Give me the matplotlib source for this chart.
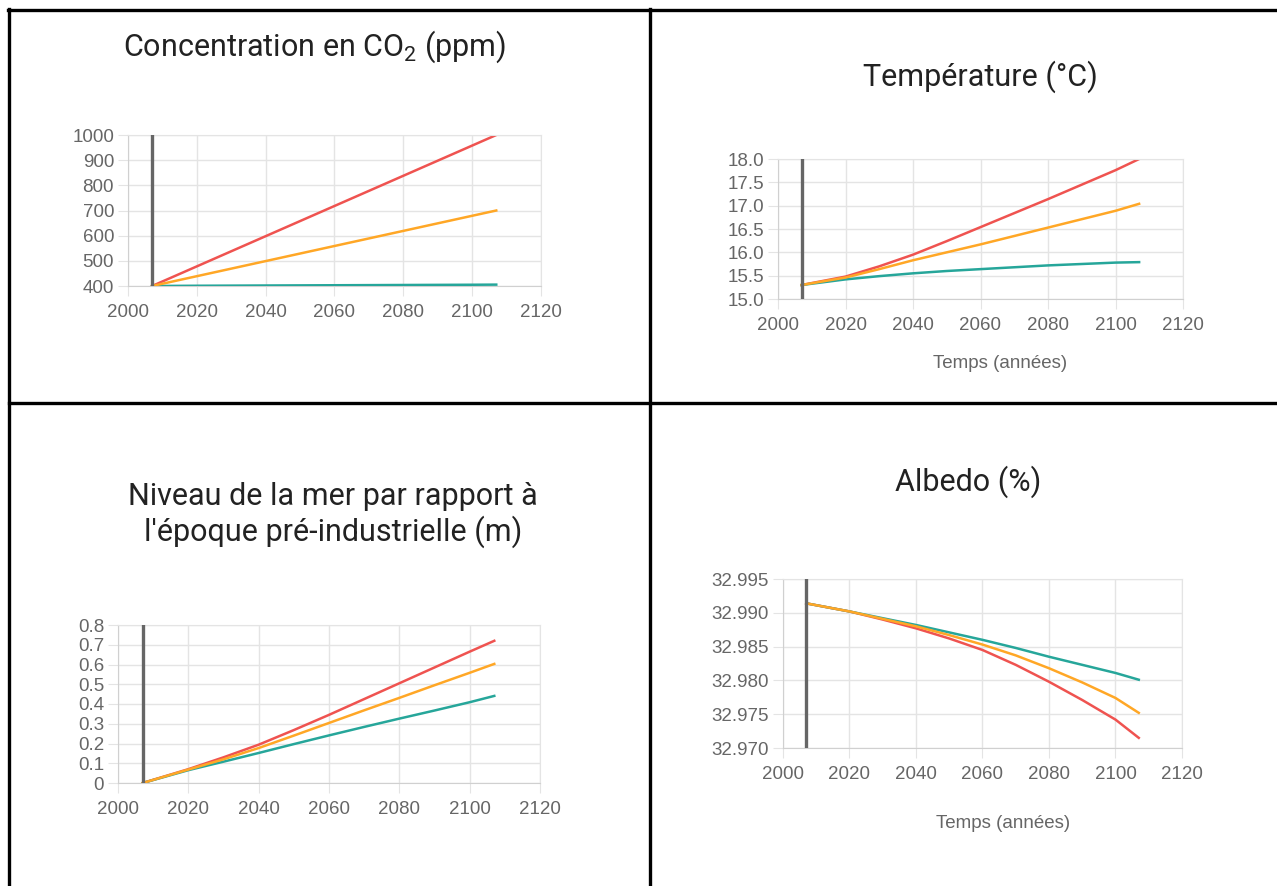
import matplotlib
matplotlib.use('Agg')
import matplotlib.pyplot as plt
from matplotlib.lines import Line2D
from matplotlib.ticker import FormatStrFormatter

plt.rcParams['mathtext.fontset'] = 'custom'
plt.rcParams['mathtext.rm'] = 'Roboto'

# data
years = [2007, 2020, 2030, 2040, 2050, 2060, 2070, 2080, 2090, 2100, 2107]
start_year = 2007

co2_red = [400, 478, 538, 598, 658, 718, 778, 838, 898, 958, 1000]
co2_orange = [400, 439, 469, 499, 529, 559, 589, 619, 649, 679, 700]
co2_teal = [400, 401, 401.5, 402, 402.5, 403, 403.5, 404, 404.5, 405, 405.5]

temp_red = [15.3, 15.48, 15.7, 15.95, 16.24, 16.54, 16.84, 17.14, 17.45, 17.76, 18.0]
temp_orange = [15.3, 15.46, 15.64, 15.83, 16.0, 16.17, 16.35, 16.53, 16.71, 16.89, 17.04]
temp_teal = [15.3, 15.42, 15.49, 15.55, 15.6, 15.64, 15.68, 15.72, 15.75, 15.78, 15.79]

sea_red = [0.0, 0.07, 0.13, 0.194, 0.268, 0.345, 0.425, 0.505, 0.585, 0.665, 0.72]
sea_orange = [0.0, 0.068, 0.12, 0.177, 0.24, 0.304, 0.368, 0.431, 0.495, 0.558, 0.603]
sea_teal = [0.0, 0.065, 0.108, 0.152, 0.197, 0.241, 0.284, 0.326, 0.367, 0.409, 0.441]

alb_red = [32.9914, 32.9902, 32.9890, 32.9877, 32.9862, 32.9845, 32.9823,
           32.9798, 32.9771, 32.9742, 32.9715]
alb_orange = [32.9914, 32.9902, 32.9891, 32.9880, 32.9867, 32.9853, 32.9837,
              32.9818, 32.9797, 32.9774, 32.9752]
alb_teal = [32.9914, 32.9902, 32.9892, 32.9882, 32.9871, 32.9860, 32.9848,
            32.9835, 32.9823, 32.9811, 32.9801]

xticks = [2000, 2020, 2040, 2060, 2080, 2100, 2120]

RED = '#ef5350'
ORANGE = '#ffa726'
TEAL = '#26a69a'
GRID = '#e4e4e4'
TICKC = '#666666'

W, H = 1277, 886
fig = plt.figure(figsize=(W / 100, H / 100), dpi=100)


def box(x0, y0, x1, y1):
    # pixel box (top-left origin) -> figure fraction rect
    return [x0 / W, 1 - y1 / H, (x1 - x0) / W, (y1 - y0) / H]


def panel(rect, red, orange, teal, ylim, yticks, fmt):
    ax = fig.add_axes(rect)
    ax.plot(years, teal, color=TEAL, lw=1.8, zorder=3)
    ax.plot(years, orange, color=ORANGE, lw=1.8, zorder=4)
    ax.plot(years, red, color=RED, lw=1.8, zorder=2)
    ax.axvline(start_year, color='#666666', lw=2.4, zorder=5)
    ax.set_xlim(2000, 2120)
    ax.set_ylim(*ylim)
    ax.set_xticks(xticks)
    ax.set_yticks(yticks)
    ax.yaxis.set_major_formatter(FormatStrFormatter(fmt))
    ax.grid(True, color=GRID, lw=1)
    ax.set_axisbelow(True)
    for s in ax.spines.values():
        s.set_color(GRID)
    ax.spines['bottom'].set_color('#d0d0d0')
    ax.spines['left'].set_color('#d0d0d0')
    ax.tick_params(length=7, color=GRID, labelcolor=TICKC, labelsize=13.5, pad=3)
    ax.tick_params(axis='x', pad=6)
    for lab in ax.get_xticklabels() + ax.get_yticklabels():
        lab.set_family('Liberation Sans')
    return ax


panel(box(128, 135, 541, 286), co2_red, co2_orange, co2_teal,
      (400, 1000), [400, 500, 600, 700, 800, 900, 1000], '%d')
panel(box(778, 159, 1183, 299), temp_red, temp_orange, temp_teal,
      (15.0, 18.0), [15.0, 15.5, 16.0, 16.5, 17.0, 17.5, 18.0], '%.1f')
panel(box(118, 625, 540, 783), sea_red, sea_orange, sea_teal,
      (0, 0.8), [0, 0.1, 0.2, 0.3, 0.4, 0.5, 0.6, 0.7, 0.8], '%g')
panel(box(783, 579, 1182, 748), alb_red, alb_orange, alb_teal,
      (32.970, 32.995), [32.970, 32.975, 32.980, 32.985, 32.990, 32.995], '%.3f')

tkw = dict(family='Roboto', fontsize=22, color='#222222', ha='center', va='center')
fig.text(315 / W, 1 - 47 / H, 'Concentration en CO$_\\mathrm{2}$ (ppm)', **tkw)
fig.text(980 / W, 1 - 77 / H, 'Température (°C)', **tkw)
fig.text(333 / W, 1 - 515 / H, "Niveau de la mer par rapport à\nl'époque pré-industrielle (m)",
         linespacing=1.2, **tkw)
fig.text(968 / W, 1 - 482 / H, 'Albedo (%)', **tkw)

lkw = dict(family='Liberation Sans', fontsize=13.5, color=TICKC, ha='center', va='center')
fig.text(1000 / W, 1 - 363 / H, 'Temps (années)', **lkw)
fig.text(1003 / W, 1 - 824 / H, 'Temps (années)', **lkw)

# table borders
bkw = dict(color='black', lw=2.4, transform=fig.transFigure)
fig.add_artist(Line2D([8 / W, 1], [1 - 10 / H, 1 - 10 / H], **bkw))
fig.add_artist(Line2D([9 / W, 1], [1 - 403 / H, 1 - 403 / H], **bkw))
fig.add_artist(Line2D([9 / W, 9 / W], [0, 1 - 9 / H], **bkw))
fig.add_artist(Line2D([650 / W, 650 / W], [0, 1 - 9 / H], **bkw))

fig.savefig('out.png', dpi=100)
